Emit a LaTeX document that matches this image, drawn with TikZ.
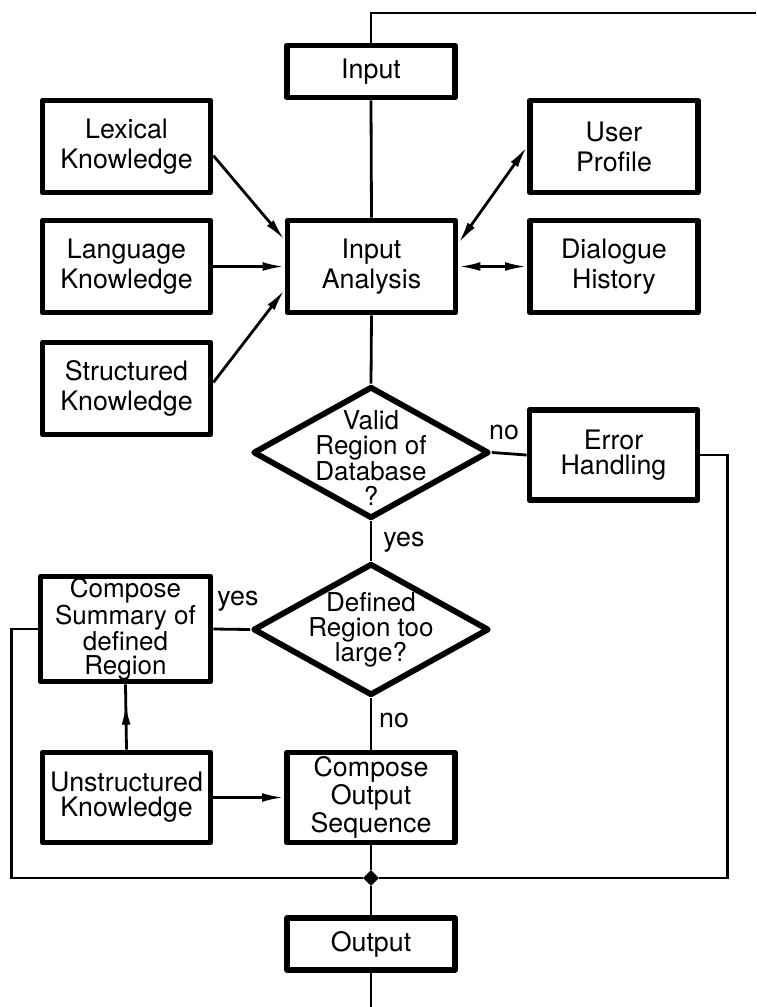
\documentclass[tikz,border=0pt]{standalone}
\usepackage{fontspec}
\setmainfont{TeX Gyre Heros}
\usetikzlibrary{arrows.meta, positioning, shapes.geometric, decorations.markings}
\tikzset{
	kbox/.style={draw, line width=2.9pt, line join=round, align=center, inner sep=0pt,
		minimum width=84pt, minimum height=46pt, font=\fontsize{13.4}{15}\selectfont},
	lowbox/.style={kbox, minimum height=45pt, font=\fontsize{13.4}{12.6}\selectfont},
	iobox/.style={kbox, minimum height=26pt},
	decision/.style={draw, diamond, line width=2.9pt, line join=round, inner sep=0pt,
		minimum width=118pt, minimum height=66pt},
	dtext/.style={align=center, font=\fontsize{13}{12.6}\selectfont},
	lbl/.style={font=\fontsize{13.4}{15}\selectfont},
	link/.style={line width=1.4pt},
	arr/.style={link, -{Latex[length=11pt, width=4.4pt]}},
	dblarr/.style={link, {Latex[length=11pt, width=4.4pt]}-{Latex[length=11pt, width=4.4pt]}},
	midarr/.style={link, postaction={decorate}, decoration={markings,
		mark=at position 0.72 with {\arrow{Latex[length=11pt, width=4.4pt]}}}},
	junction/.style={diamond, fill, inner sep=0pt, minimum size=8pt}
}

\begin{document}
\begin{tikzpicture}[x=0.5pt, y=-0.5pt]
	\useasboundingbox (0,0) rectangle (756,1007);
	% boxes
	\node[iobox] (input) at (371,71.5) {Input};
	\node[kbox] (lex) at (126.5,146.5) {Lexical\\Knowledge};
	\node[kbox] (lang) at (126.5,266.5) {Language\\Knowledge};
	\node[kbox] (struc) at (126.5,388.5) {Structured\\Knowledge};
	\node[kbox] (analysis) at (371.5,266.5) {Input\\Analysis};
	\node[kbox] (user) at (614,146.5) {User\\Profile};
	\node[kbox] (dialog) at (614,266.5) {Dialogue\\History};
	\node[lowbox] (error) at (613.5,455) {Error\\Handling};
	\node[lowbox, minimum width=85pt, minimum height=52.5pt, font=\fontsize{13}{11.9}\selectfont] (summary) at (125.5,629) {Compose\\Summary of\\defined\\Region};
	\node[lowbox] (unstr) at (126.5,797.5) {Unstructured\\Knowledge};
	\node[lowbox] (compose) at (371,797.5) {Compose\\Output\\Sequence};
	\node[iobox] (output) at (371,944) {Output};
	% decisions
	\node[decision] (valid) at (371,452.5) {};
	\node[dtext] (validtxt) at (371,458) {Valid\\Region of\\Database\\?};
	\node[decision] (defined) at (371,629.5) {};
	\node[dtext] (definedtxt) at (371,630) {Defined\\Region too\\large?};
	\node[junction] (junc) at (371,878) {};
	\coordinate (topright) at (756,13);
	\coordinate (bottom) at (371,1007);
	% labels
	\node[lbl] (noA) at (504,432) {no};
	\node[lbl] (yesA) at (404,542) {yes};
	\node[lbl] (yesB) at (238,601) {yes};
	\node[lbl] (noB) at (394,720) {no};
	% connectors
	\draw[link] (input.north) |- (topright);
	\draw[link] (input.south) -- (analysis.north);
	\draw[arr] (lex.354) -- (analysis.163);
	\draw[arr] (lang.east) -- (analysis.west);
	\draw[arr] (struc.4) -- (analysis.195);
	\draw[dblarr] (analysis.15) -- (user.west);
	\draw[dblarr] (analysis.east) -- (dialog.west);
	\draw[link] (analysis.south) -- (valid.north);
	\draw[link] (valid.east) -- (error.west);
	\draw[link] (valid.south) -- (defined.north);
	\draw[link] (defined.west) -- (summary.east);
	\draw[link] (defined.south) -- (compose.north);
	\draw[arr] (unstr.east) -- (compose.west);
	\draw[midarr] (unstr.north) -- (summary.south);
	\draw[link] (error.east) -- ++(27,0) |- (junc);
	\draw[link] (summary.west) -- ++(-26,0) |- (junc);
	\draw[link] (compose.south) -- (junc) -- (output.north);
	\draw[link] (output.south) -- (bottom);
\end{tikzpicture}
\end{document}
